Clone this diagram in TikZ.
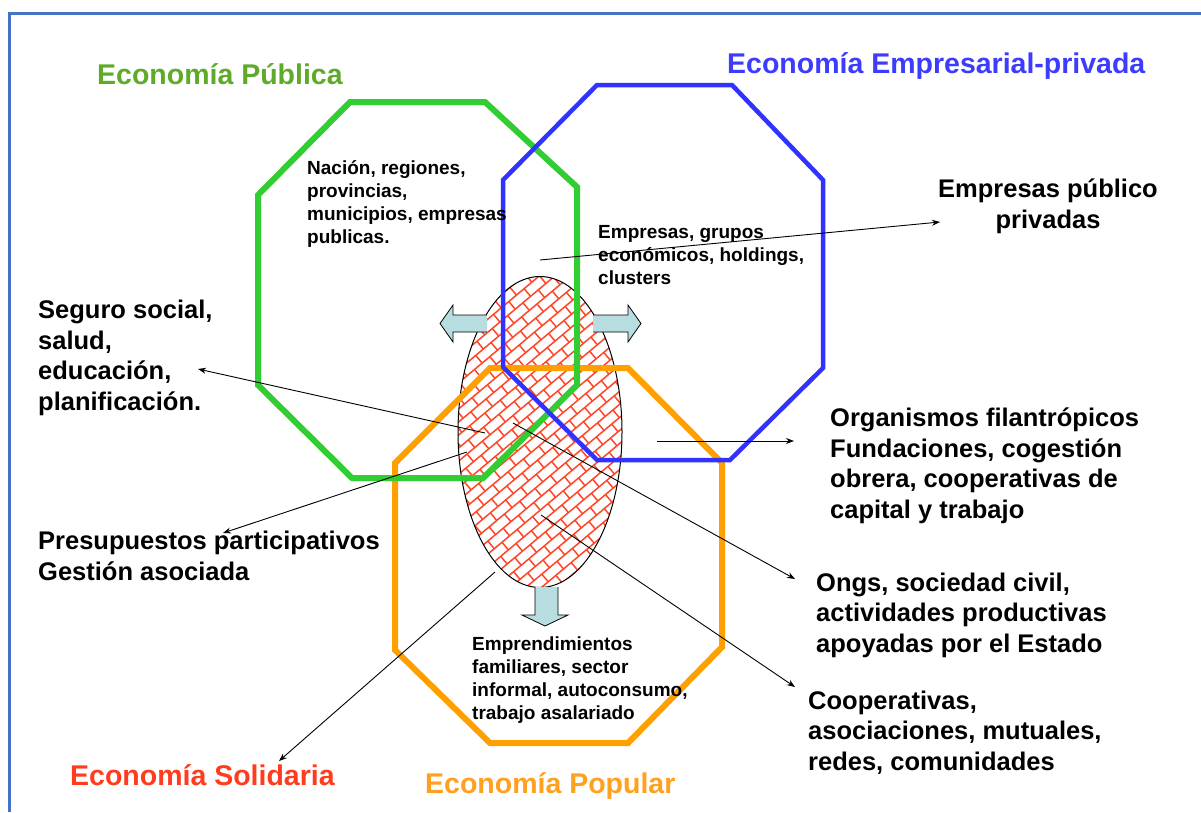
\documentclass[tikz,border=0pt]{standalone}
\usepackage{fontspec}
\setmainfont{Liberation Sans}
\usetikzlibrary{arrows.meta}
\definecolor{frameblue}{RGB}{68,114,196}
\definecolor{octgreen}{RGB}{50,205,50}
\definecolor{octblue}{RGB}{50,50,255}
\definecolor{octorange}{RGB}{255,160,0}
\definecolor{titgreen}{RGB}{95,170,40}
\definecolor{titblue}{RGB}{60,60,255}
\definecolor{titred}{RGB}{255,60,30}
\definecolor{titorange}{RGB}{255,160,30}
\definecolor{brickred}{RGB}{255,70,40}
\definecolor{arrowfill}{RGB}{183,221,224}
\begin{document}
\begin{tikzpicture}[x=1pt,y=-1pt,
  oct/.style={line width=6pt, line join=miter},
  big/.style={font=\fontsize{25.5}{30.5}\selectfont\bfseries, align=left, inner sep=0pt, anchor=base west},
  small/.style={font=\fontsize{19}{22.8}\selectfont\bfseries, align=left, inner sep=0pt, anchor=base west},
  titlefont/.style={font=\fontsize{28.5}{34}\selectfont\bfseries, inner sep=0pt, anchor=base west},
  conn/.style={-{Stealth[length=8pt,width=6pt]}, line width=0.9pt, draw=black},
  blockarrow/.style={fill=arrowfill},
  blockedge/.style={draw=black, line width=0.8pt, line join=miter},
  brick/.style={draw=brickred, line width=1.5pt}
]
\useasboundingbox (0,0) rectangle (1201,812);
\fill[white] (0,0) rectangle (1201,812);
% frame
\draw[frameblue, line width=3pt] (9,812) -- (9,13) -- (1201,13);

% ellipse with brick pattern
\begin{scope}
  \clip (540,432) ellipse [x radius=82, y radius=155.5];
  \begin{scope}[shift={(540,432)}, rotate=40]
    \foreach \r in {-17,...,17}{
      \draw[brick] (-180,\r*10) -- (180,\r*10);
      \pgfmathsetmacro\off{mod(\r+40,2)*10}
      \foreach \c in {-10,...,10}{
        \draw[brick] (\c*20+\off,\r*10) -- ++(0,10);
      }
    }
  \end{scope}
\end{scope}
\draw[black, line width=1pt] (540,432) ellipse [x radius=82, y radius=155.5];

% block arrows
\fill[blockarrow] (487,315) -- (453,315) -- (453,305) -- (440,323.5) -- (453,342) -- (453,332) -- (487,332) -- cycle;
\draw[blockedge] (487,315) -- (453,315) -- (453,305) -- (440,323.5) -- (453,342) -- (453,332) -- (487,332);
\fill[blockarrow] (593,315) -- (628,315) -- (628,305) -- (641,323.5) -- (628,342) -- (628,332) -- (593,332) -- cycle;
\draw[blockedge] (593,315) -- (628,315) -- (628,305) -- (641,323.5) -- (628,342) -- (628,332) -- (593,332);
\fill[blockarrow] (535,587) -- (535,615) -- (522,615) -- (545,626) -- (568,615) -- (558,615) -- (558,587) -- cycle;
\draw[blockedge] (535,587) -- (535,615) -- (522,615) -- (545,626) -- (568,615) -- (558,615) -- (558,587);

% octagons
\draw[oct, octorange] (490,368) -- (628,368) -- (722,463) -- (722,647) -- (628,743) -- (490,743) -- (395,650) -- (395,463) -- cycle;
\draw[oct, octgreen] (350,102) -- (485,102) -- (577,187) -- (577,385) -- (483,478) -- (352,478) -- (258,385) -- (258,195) -- cycle;
\draw[oct, octblue, line width=4.5pt] (597,85) -- (732,85) -- (823,180) -- (823,368) -- (730,460) -- (597,460) -- (503,367) -- (503,180) -- cycle;

% titles
\node[titlefont, text=titgreen] (tpub) at (97,84) {Economía Pública};
\node[titlefont, text=titblue] (temp) at (727,73) {Economía Empresarial-privada};
\node[titlefont, text=titred] (tsol) at (70,785) {Economía Solidaria};
\node[titlefont, text=titorange] (tpop) at (425,793) {Economía Popular};

% inner texts (base anchor = baseline of last line)
\node[small] (nac) at (307,243) {Nación, regiones,\\provincias,\\municipios, empresas\\publicas.};
\node[small] (emp) at (598,284) {Empresas, grupos\\económicos, holdings,\\clusters};
\node[small] (empr) at (472,719) {Emprendimientos\\familiares, sector\\informal, autoconsumo,\\trabajo asalariado};

% outer texts
\node[big, align=center, anchor=base] (epp) at (1048,228) {Empresas público\\privadas};
\node[big] (seg) at (38,410) {Seguro social,\\salud,\\educación,\\planificación.};
\node[big] (pres) at (38,580) {Presupuestos participativos\\Gestión asociada};
\node[big] (org) at (830,518) {Organismos filantrópicos\\Fundaciones, cogestión\\obrera, cooperativas de\\capital y trabajo};
\node[big] (ong) at (816,652) {Ongs, sociedad civil,\\actividades productivas\\apoyadas por el Estado};
\node[big] (coop) at (808,770) {Cooperativas,\\asociaciones, mutuales,\\redes, comunidades};

% connector endpoints
\coordinate (s1) at (540,260); \coordinate (e1) at (940,222);
\coordinate (s2) at (485,433); \coordinate (e2) at (198,369);
\coordinate (s3) at (467,452); \coordinate (e3) at (223,533);
\coordinate (s4) at (513,423); \coordinate (e4) at (795,579);
\coordinate (s5) at (541,515); \coordinate (e5) at (795,687);
\coordinate (s6) at (657,441); \coordinate (e6) at (794,441);
\coordinate (s7) at (495,572); \coordinate (e7) at (279,761);

\draw[conn] (s1) -- (e1);
\draw[conn] (s2) -- (e2);
\draw[conn] (s3) -- (e3);
\draw[conn] (s4) -- (e4);
\draw[conn] (s5) -- (e5);
\draw[conn] (s6) -- (e6);
\draw[conn] (s7) -- (e7);
\end{tikzpicture}
\end{document}
